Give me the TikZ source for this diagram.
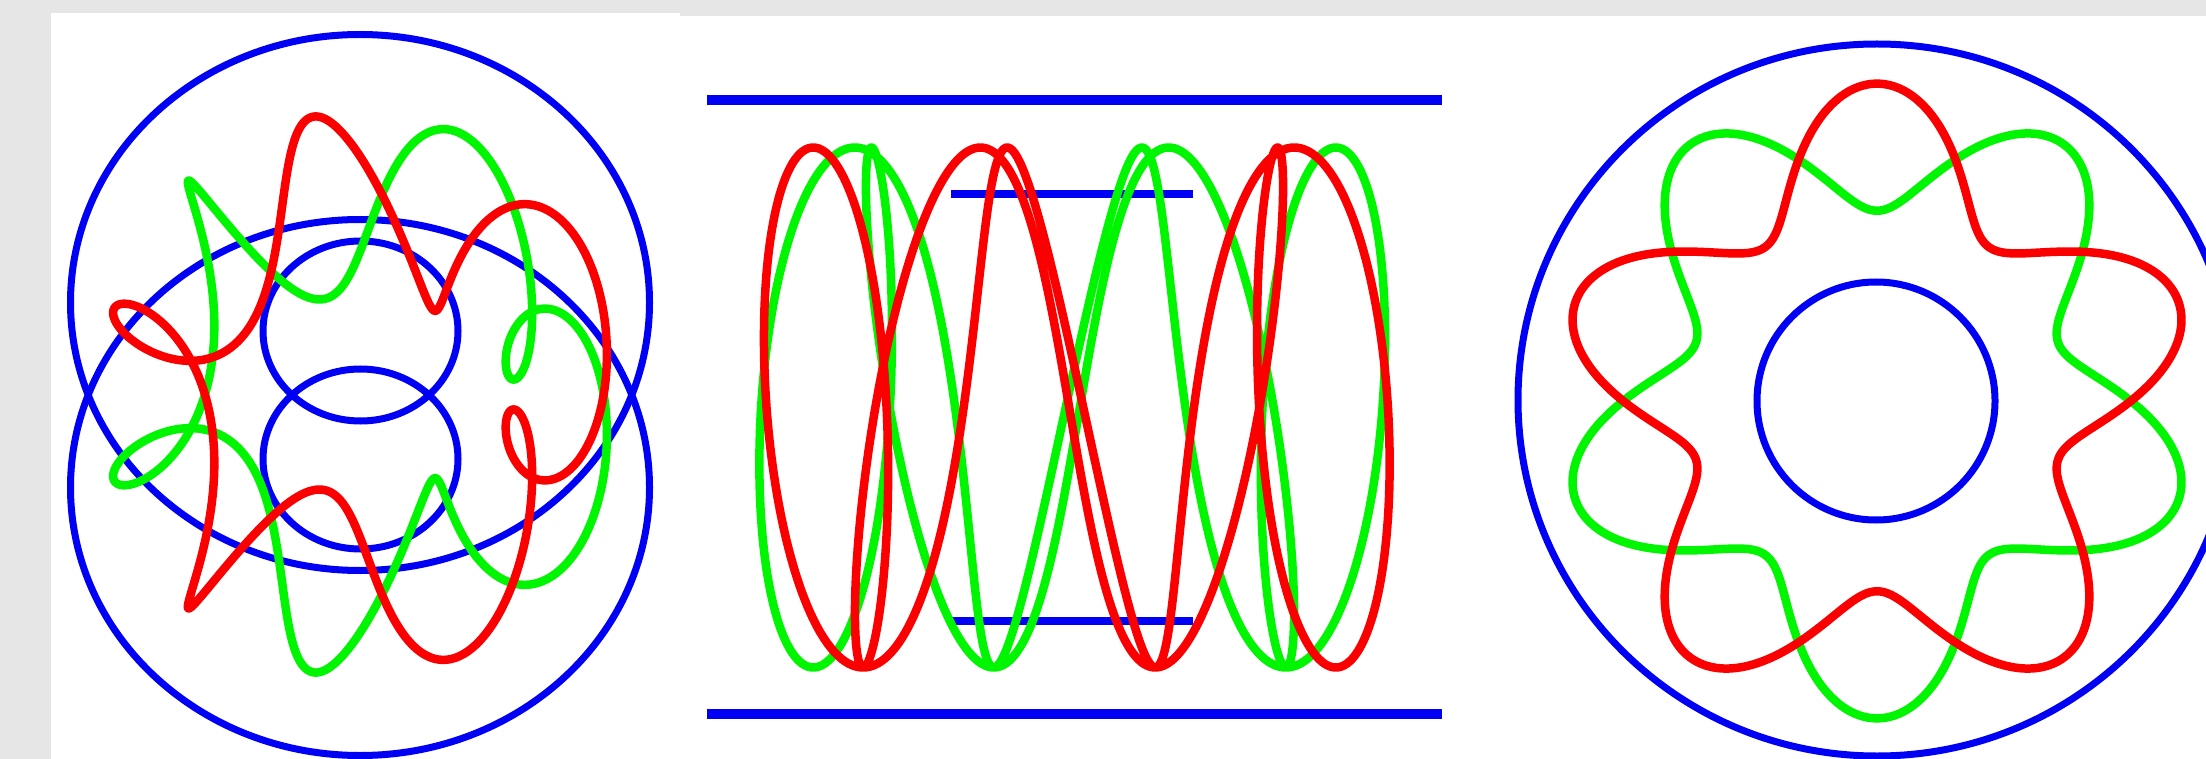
\documentclass[tikz,border=0pt]{standalone}
\definecolor{bggray}{RGB}{230,230,230}
\definecolor{kblue}{RGB}{0,0,245}
\definecolor{kred}{RGB}{250,0,0}
\definecolor{kgreen}{RGB}{0,245,0}
\tikzset{
  circ/.style={draw=kblue, line width=7pt},
  barout/.style={draw=kblue, line width=10pt},
  barin/.style={draw=kblue, line width=8pt},
  redc/.style={draw=kred, line width=8.5pt, line join=round},
  greenc/.style={draw=kgreen, line width=8.5pt, line join=round},
  knotplot/.style={domain=0:360, samples=721, variable=\t},
}
\def\RR{0.711}
\def\AA{0.178}
\def\CC{0.054}
\begin{document}
\begin{tikzpicture}[x=1pt,y=-1pt]
\useasboundingbox (0,0) rectangle (2206,759);
\clip (0,0) rectangle (2206,759);
\fill[bggray] (0,0) rectangle (2206,759);
\fill[white] (51,13) rectangle (680,759);
\fill[white] (680,16) rectangle (2206,759);
% ---------- left panel: oblique view ----------
\draw[circ] (360,302.5) ellipse [x radius=289.5pt, y radius=268pt];
\draw[circ] (360,487.5) ellipse [x radius=289.5pt, y radius=268pt];
\draw[circ] (360.5,331) ellipse [x radius=97.5pt, y radius=90pt];
\draw[circ] (360.5,459) ellipse [x radius=97.5pt, y radius=90pt];
\draw[greenc] plot[knotplot] ({360-289.5*(\RR+\AA*sin(5*\t))*cos(\t)},{394.5+268*(\RR+\AA*sin(5*\t))*sin(\t)+78.3*cos(5*\t)}) -- cycle;
\draw[redc] plot[knotplot] ({360-289.5*(\RR+\AA*sin(5*\t))*cos(\t)},{394.5-268*(\RR+\AA*sin(5*\t))*sin(\t)-78.3*cos(5*\t)}) -- cycle;
% ---------- middle panel: side view ----------
\draw[barout] (707,100) -- (1442,100);
\draw[barout] (707,714) -- (1442,714);
\draw[barin] (951,194) -- (1193,194);
\draw[barin] (951,621) -- (1193,621);
\draw[greenc] plot[knotplot] ({1074.5-367.5*(\RR+\AA*sin(5*\t))*(cos(\t)+\CC*sin(\t)*(1-cos(5*\t))/2)},{407.5+260*cos(5*\t)}) -- cycle;
\draw[redc] plot[knotplot] ({1074.5-367.5*(\RR+\AA*sin(5*\t))*(cos(\t)-\CC*sin(\t)*(1+cos(5*\t))/2)},{407.5-260*cos(5*\t)}) -- cycle;
% ---------- right panel: top view ----------
\draw[circ] (1877,400) ellipse [x radius=359pt, y radius=356pt];
\draw[circ] (1876,401) circle [radius=119pt];
\draw[greenc] plot[knotplot] ({1877+357*(\RR-\AA*sin(5*\t))*cos(\t)},{401-357*(\RR-\AA*sin(5*\t))*sin(\t)}) -- cycle;
\draw[redc] plot[knotplot] ({1877+357*(\RR+\AA*sin(5*\t))*cos(\t)},{401-357*(\RR+\AA*sin(5*\t))*sin(\t)}) -- cycle;
\end{tikzpicture}
\end{document}
